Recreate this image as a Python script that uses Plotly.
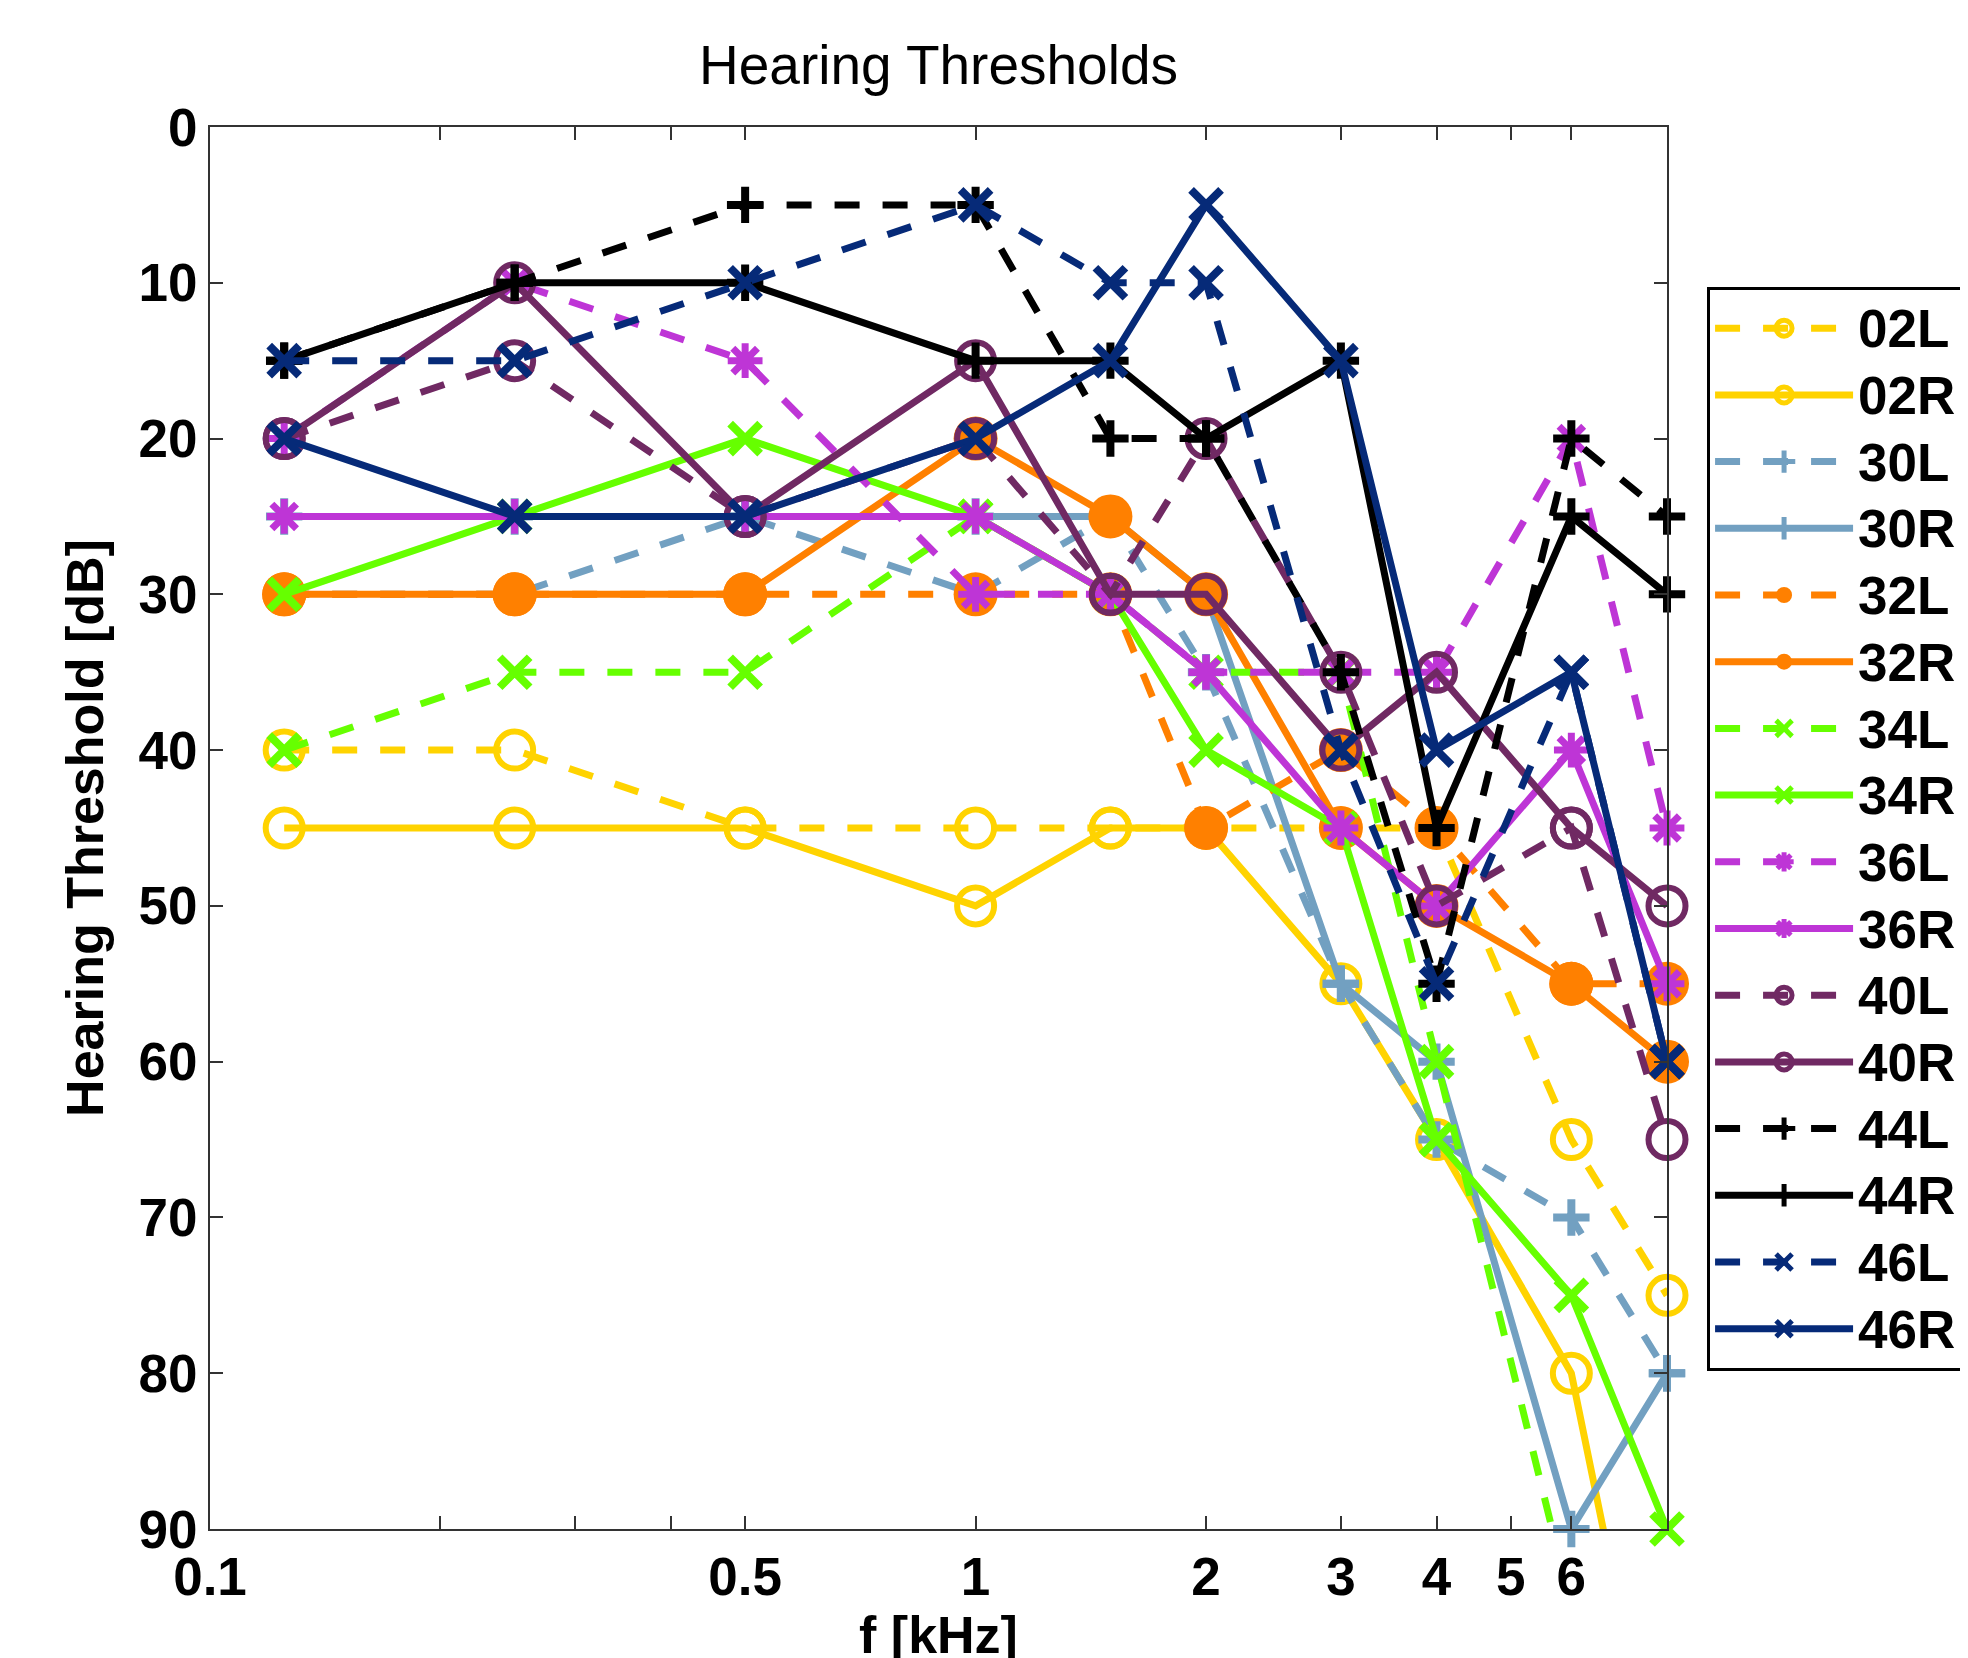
import plotly.graph_objects as go

# ---- data ----
freqs = [0.125, 0.25, 0.5, 1, 1.5, 2, 3, 4, 6, 8]  # kHz

names = ["02L", "02R", "30L", "30R", "32L", "32R", "34L", "34R",
         "36L", "36R", "40L", "40R", "44L", "44R", "46L", "46R"]

t02L = [40, 40, 45, 45, 45, 45, 45, 45, 65, 75]
t02R = [45, 45, 45, 50, 45, 45, 55, 65, 80, 110]
t30L = [30, 30, 25, 30, 25, 35, 55, 65, 70, 80]
t30R = [25, 25, 25, 25, 25, 30, 55, 60, 90, 80]
t32L = [30, 30, 30, 30, 30, 45, 40, 45, 55, 55]
t32R = [30, 30, 30, 20, 25, 30, 45, 50, 55, 60]
t34L = [40, 35, 35, 25, 30, 35, 35, 60, 95, 100]
t34R = [30, 25, 20, 25, 30, 40, 45, 65, 75, 90]
t36L = [20, 10, 15, 30, 30, 35, 35, 35, 20, 45]
t36R = [25, 25, 25, 25, 30, 35, 45, 50, 40, 55]
t40L = [20, 15, 25, 20, 30, 20, 35, 50, 45, 65]
t40R = [20, 10, 25, 15, 30, 30, 40, 35, 45, 50]
t44L = [15, 10, 5, 5, 20, 20, 35, 55, 20, 25]
t44R = [15, 10, 10, 15, 15, 20, 15, 45, 25, 30]
t46L = [15, 15, 10, 5, 10, 10, 40, 55, 35, 60]
t46R = [20, 25, 25, 20, 15, 5, 15, 40, 35, 60]

x_tickvals = [0.1, 0.2, 0.3, 0.4, 0.5, 1, 2, 3, 4, 5, 6]
x_ticktext = ["0.1", "", "", "", "0.5", "1", "2", "3", "4", "5", "6"]
y_tickvals = [0, 10, 20, 30, 40, 50, 60, 70, 80, 90]

values = [t02L, t02R, t30L, t30R, t32L, t32R, t34L, t34R,
          t36L, t36R, t40L, t40R, t44L, t44R, t46L, t46R]

# ---- styles ----
group_color = {"02": "#FFD300", "30": "#72A0C1", "32": "#FF8000", "34": "#66FF00",
               "36": "#BE35D6", "40": "#702963", "44": "#000000", "46": "#062A78"}
group_marker = {
    "02": dict(symbol="circle-open", size=37, lw=6),
    "30": dict(symbol="cross-thin-open", size=26, lw=8),
    "32": dict(symbol="circle", size=44, lw=0),
    "34": dict(symbol="x-thin-open", size=30, lw=8),
    "36": dict(symbol="asterisk-open", size=29, lw=7),
    "40": dict(symbol="circle-open", size=37, lw=6),
    "44": dict(symbol="cross-thin-open", size=26, lw=8),
    "46": dict(symbol="x-thin-open", size=30, lw=8),
}

FONT = "Liberation Sans, Arial, Helvetica, sans-serif"

fig = go.Figure()
for name, vals in zip(names, values):
    g = name[:2]
    col = group_color[g]
    mk = group_marker[g]
    dash = "25px,23px" if name.endswith("L") else "solid"
    off_chart = any(v > 90 for v in vals)
    fig.add_trace(go.Scatter(
        x=freqs, y=vals, mode="lines+markers",
        name="<span style='font-size:53px'>" + name + "</span>",
        line=dict(color=col, width=7, dash=dash),
        marker=dict(symbol=mk["symbol"], size=mk["size"], color=col,
                    line=dict(color=col, width=mk["lw"])),
        cliponaxis=off_chart,
    ))

axis_common = dict(
    showline=True, linecolor="#333333", linewidth=2, mirror="ticks",
    ticks="inside", ticklen=13, tickwidth=2, tickcolor="#333333",
    showgrid=False, zeroline=False,
    tickfont=dict(family=FONT, size=53, color="black", weight="bold"),
)

fig.update_layout(
    width=1968, height=1658,
    paper_bgcolor="white", plot_bgcolor="white",
    margin=dict(l=202, r=309, t=119, b=137, autoexpand=False),
    title=dict(text="Hearing Thresholds", x=(938.5 - 8) / 1968, xanchor="center",
               y=1 - 57 / 1658, yanchor="middle", yref="container",
               font=dict(family=FONT, size=55, color="black")),
    xaxis=dict(type="log", range=[-1, 0.90309],
               tickvals=x_tickvals, ticktext=x_ticktext,
               title=dict(text="f [kHz]", standoff=0,
                          font=dict(family=FONT, size=52, color="black", weight="bold")),
               **axis_common),
    yaxis=dict(range=[90, 0], tickvals=y_tickvals,
               title=dict(text="Hearing Threshold [dB]", standoff=18,
                          font=dict(family=FONT, size=52, color="black", weight="bold")),
               **axis_common),
    legend=dict(x=1.0275, y=0.886, xanchor="left", yanchor="top",
                bgcolor="white", bordercolor="black", borderwidth=3,
                font=dict(family=FONT, size=49, color="black", weight="bold"),
                itemwidth=138, tracegroupgap=0, traceorder="normal"),
    showlegend=True,
)

fig.write_html("out.html")
